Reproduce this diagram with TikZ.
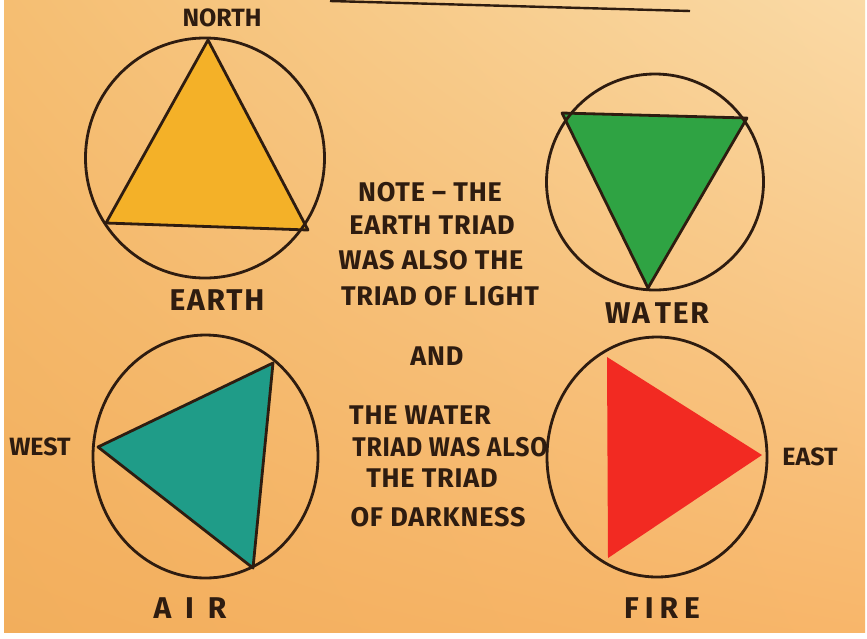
\documentclass[tikz,border=0pt]{standalone}
\usepackage{fontspec}
\setmainfont{Fira Sans}
\usetikzlibrary{shadings}
\definecolor{inkc}{HTML}{2E1C10}
\definecolor{earthc}{HTML}{F4B128}
\definecolor{waterc}{HTML}{2FA343}
\definecolor{airc}{HTML}{1F9C88}
\definecolor{firec}{HTML}{F22A22}
\definecolor{bgul}{RGB}{245,190,114}
\definecolor{bgur}{RGB}{250,218,166}
\definecolor{bgll}{RGB}{242,174,92}
\definecolor{bglr}{RGB}{248,182,106}
\begin{document}
\begin{tikzpicture}[x=1pt,y=-1pt,
  ink/.style={draw=inkc,line width=2.8pt,line join=round},
  lbl/.style={text=inkc,font=\fontsize{25}{25}\selectfont\bfseries,inner sep=0pt},
  big/.style={text=inkc,font=\fontsize{30}{30}\selectfont\addfontfeatures{LetterSpace=6}\bfseries,inner sep=0pt},
  note/.style={text=inkc,font=\fontsize{27}{27}\selectfont\addfontfeatures{LetterSpace=3}\bfseries,inner sep=0pt},
]
\useasboundingbox (0,0) rectangle (867,638);
\fill[white] (0,0) rectangle (867,638);
\shade[upper left=bgul, upper right=bgur, lower left=bgll, lower right=bglr]
  (4,0) rectangle (865,632);
% top rule
\coordinate (r1) at (330,1);
\coordinate (r2) at (690,11);
\draw[ink,line width=2.4pt] (r1) -- (r2);
% EARTH
\coordinate (ec) at (205,158);
\fill[earthc] (208,40) coordinate (e1) -- (106,223) coordinate (e2) -- (308,230) coordinate (e3) -- cycle;
\draw[ink] (e1) -- (e2) -- (e3) -- cycle;
\draw[ink] (ec) ellipse [x radius=119.5, y radius=120];
\node[lbl] (north) at (222,18) {NORTH};
\node[big] (earth) at (217,300) {EARTH};
% WATER
\coordinate (wc) at (655,182);
\fill[waterc] (562,113) coordinate (w1) -- (747,118) coordinate (w2) -- (648,288) coordinate (w3) -- cycle;
\draw[ink] (w1) -- (w2) -- (w3) -- cycle;
\draw[ink] (wc) ellipse [x radius=108.5, y radius=108];
\node[big] (water) at (657,313) {WA\,TER};
% AIR
\coordinate (ac) at (205.5,456.5);
\fill[airc] (98,447) coordinate (a1) -- (273,363) coordinate (a2) -- (253,568) coordinate (a3) -- cycle;
\draw[ink] (a1) -- (a2) -- (a3) -- cycle;
\draw[ink] (ac) ellipse [x radius=112.5, y radius=121.5];
\node[lbl] (west) at (40,447) {WEST};
\node[big] (air) at (190,608) {A\hspace{14pt}I\hspace{14pt}R};
% FIRE
\coordinate (fc) at (657,457);
\fill[firec] (607,357) coordinate (f1) -- (608,558) coordinate (f2) -- (762,455) coordinate (f3) -- cycle;
\draw[ink] (fc) ellipse [x radius=110, y radius=120];
\node[lbl] (east) at (810,457) {EAST};
\node[big] (fire) at (662,608) {F\hspace{6pt}I\hspace{6pt}R\hspace{6pt}E};
% note
\node[note] (n1) at (430,192) {NOTE -- THE};
\node[note] (n2) at (432,225) {EARTH TRIAD};
\node[note] (n3) at (431,260) {WAS ALSO THE};
\node[note] (n4) at (440,296) {TRIAD OF LIGHT};
\node[note] (n5) at (437,356) {AND};
\node[note] (n6) at (420,415) {THE WATER};
\node[note,xscale=0.92] (n7) at (450,447) {TRIAD WAS ALSO};
\node[note] (n8) at (432,478) {THE TRIAD};
\node[note] (n9) at (438,517) {OF DARKNESS};
\end{tikzpicture}
\end{document}
